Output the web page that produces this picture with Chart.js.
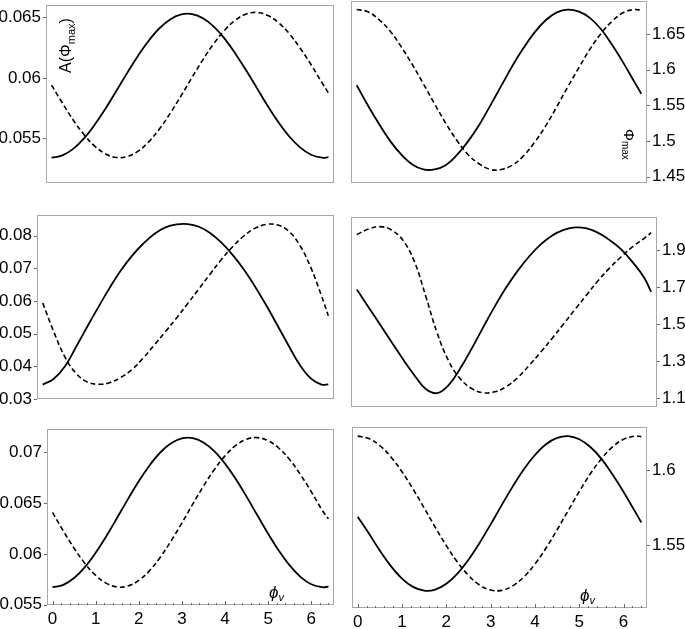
<!DOCTYPE html>
<html>
<head>
<meta charset="utf-8">
<script src="https://cdn.jsdelivr.net/npm/chart.js@4.4.1/dist/chart.umd.min.js"></script>
<style>
  html, body { margin: 0; padding: 0; background: #fff; }
  body { width: 685px; height: 629px; position: relative; overflow: hidden; }
  canvas { position: absolute; }
</style>
</head>
<body>
<canvas id="p1"></canvas>
<canvas id="p2"></canvas>
<canvas id="p3"></canvas>
<canvas id="p4"></canvas>
<canvas id="p5"></canvas>
<canvas id="p6"></canvas>
<script>
// phase phi_v samples, shared by every panel
const phi = [0, 0.25, 0.5, 0.75, 1, 1.25, 1.5, 1.75, 2, 2.25, 2.5, 2.75, 3, 3.25,
             3.5, 3.75, 4, 4.25, 4.5, 4.75, 5, 5.25, 5.5, 5.75, 6, 6.25, 6.4];
const xTicks = [0, 1, 2, 3, 4, 5, 6];

// top row: A(Phi_max) left, Phi_max right
const topLeftSolid  = [0.05340, 0.05359, 0.05413, 0.05500, 0.05614, 0.05747, 0.05893, 0.06041, 0.06183, 0.06309, 0.06412, 0.06485, 0.06524, 0.06527,
                       0.06492, 0.06423, 0.06324, 0.06200, 0.06060, 0.05913, 0.05766, 0.05630, 0.05513, 0.05423, 0.05364, 0.05340, 0.05344];
const topLeftDashed = [0.05940, 0.05792, 0.05652, 0.05531, 0.05435, 0.05371, 0.05342, 0.05350, 0.05394, 0.05473, 0.05581, 0.05711, 0.05855, 0.06005,
                       0.06151, 0.06283, 0.06394, 0.06477, 0.06527, 0.06540, 0.06515, 0.06455, 0.06363, 0.06243, 0.06108, 0.05960, 0.05875];
const topLeftTicks  = [0.055, 0.06, 0.065];

const topRightSolid  = [1.578, 1.550, 1.524, 1.500, 1.481, 1.467, 1.460, 1.460, 1.466, 1.480, 1.499, 1.522, 1.549, 1.577,
                        1.605, 1.630, 1.652, 1.669, 1.680, 1.684, 1.681, 1.672, 1.656, 1.634, 1.609, 1.582, 1.566];
const topRightDashed = [1.684, 1.681, 1.670, 1.654, 1.632, 1.607, 1.580, 1.552, 1.525, 1.501, 1.481, 1.468, 1.460, 1.460,
                        1.466, 1.479, 1.498, 1.521, 1.548, 1.576, 1.603, 1.629, 1.651, 1.668, 1.680, 1.684, 1.683];
const topRightTicks  = [1.45, 1.5, 1.55, 1.6, 1.65];

// middle row
const midLeftSolid  = [0.0344, 0.0362, 0.0400, 0.0460, 0.0522, 0.0582, 0.0640, 0.0693, 0.0738, 0.0775, 0.0805, 0.0825, 0.0834, 0.0835,
                       0.0827, 0.0808, 0.0779, 0.0742, 0.0698, 0.0646, 0.0589, 0.0528, 0.0466, 0.0407, 0.0364, 0.0344, 0.0345];
const midLeftDashed = [0.0594, 0.0505, 0.0428, 0.0378, 0.0352, 0.0345, 0.0350, 0.0366, 0.0390, 0.0425, 0.0465, 0.0506, 0.0548, 0.0592,
                       0.0637, 0.0682, 0.0726, 0.0765, 0.0798, 0.0822, 0.0834, 0.0833, 0.0815, 0.0773, 0.0705, 0.0615, 0.0555];
const midLeftTicks  = [0.03, 0.04, 0.05, 0.06, 0.07, 0.08];

const midRightSolid  = [1.688, 1.594, 1.500, 1.406, 1.312, 1.225, 1.150, 1.128, 1.172, 1.262, 1.370, 1.485, 1.597, 1.700,
                        1.790, 1.868, 1.932, 1.980, 2.010, 2.024, 2.018, 1.994, 1.955, 1.905, 1.835, 1.752, 1.675];
const midRightDashed = [1.985, 2.015, 2.028, 2.010, 1.955, 1.840, 1.650, 1.450, 1.300, 1.205, 1.152, 1.130, 1.135, 1.163,
                        1.212, 1.278, 1.350, 1.425, 1.503, 1.582, 1.660, 1.737, 1.805, 1.865, 1.920, 1.965, 1.995];
const midRightTicks  = [1.1, 1.3, 1.5, 1.7, 1.9];

// bottom row
const botLeftSolid  = [0.05672, 0.05695, 0.05762, 0.05869, 0.06010, 0.06175, 0.06355, 0.06538, 0.06713, 0.06869, 0.06996, 0.07086, 0.07135, 0.07138,
                       0.07095, 0.07010, 0.06887, 0.06735, 0.06562, 0.06379, 0.06198, 0.06030, 0.05886, 0.05774, 0.05701, 0.05672, 0.05677];
const botLeftDashed = [0.06407, 0.06225, 0.06055, 0.05906, 0.05789, 0.05710, 0.05674, 0.05684, 0.05739, 0.05835, 0.05967, 0.06127, 0.06303, 0.06487,
                       0.06665, 0.06827, 0.06963, 0.07065, 0.07126, 0.07142, 0.07112, 0.07038, 0.06926, 0.06778, 0.06612, 0.06431, 0.06345];
const botLeftTicks  = [0.055, 0.06, 0.065, 0.07];

const botRightSolid  = [1.5690, 1.5580, 1.5464, 1.5360, 1.5277, 1.5221, 1.5196, 1.5203, 1.5242, 1.5310, 1.5403, 1.5515, 1.5639, 1.5768,
                        1.5893, 1.6008, 1.6103, 1.6175, 1.6217, 1.6229, 1.6208, 1.6156, 1.6077, 1.5973, 1.5856, 1.5729, 1.5652];
const botRightDashed = [1.6229, 1.6213, 1.6166, 1.6090, 1.5991, 1.5875, 1.5749, 1.5620, 1.5497, 1.5387, 1.5298, 1.5234, 1.5200, 1.5198,
                        1.5228, 1.5288, 1.5374, 1.5481, 1.5603, 1.5731, 1.5859, 1.5977, 1.6078, 1.6157, 1.6208, 1.6229, 1.6226];
const botRightTicks  = [1.55, 1.6];

const X_MIN = -0.128, X_MAX = 6.528;
const PADV = 12, PADH = 2;
const FONT = '"Liberation Sans", Arial, Helvetica, sans-serif';

Chart.defaults.font.family = FONT;
Chart.defaults.font.size = 17;
Chart.defaults.color = '#000';

// frame, tick marks and the axis captions
const framePlugin = {
  id: 'frame',
  afterDraw(chart, args, o) {
    const { ctx, chartArea: a } = chart;
    const ys = chart.scales.y;
    ctx.save();
    ctx.strokeStyle = '#a8a8a8';
    ctx.lineWidth = 1;
    ctx.strokeRect(a.left + 0.5, a.top + 0.5, a.right - a.left - 1, a.bottom - a.top - 1);

    ctx.strokeStyle = '#666';
    ctx.beginPath();
    o.yTicks.forEach(v => {
      const py = Math.round(ys.getPixelForValue(v)) + 0.5;
      if (o.side === 'left') { ctx.moveTo(a.left - 3, py); ctx.lineTo(a.left, py); }
      else { ctx.moveTo(a.right, py); ctx.lineTo(a.right + 3, py); }
    });
    if (o.xAxis) {
      const xs = chart.scales.x;
      for (let i = 0; i <= 32; i++) {
        const px = Math.round(xs.getPixelForValue(i * 0.2)) + 0.5;
        const len = i % 5 === 0 ? 4 : 2;
        ctx.moveTo(px, a.bottom);
        ctx.lineTo(px, a.bottom - len);
      }
    }
    ctx.stroke();

    ctx.fillStyle = '#000';
    ctx.textBaseline = 'alphabetic';
    ctx.textAlign = 'left';
    if (o.caption === 'amp') {
      ctx.translate(a.left + 25, a.top + 68);
      ctx.rotate(-Math.PI / 2);
      ctx.font = '16px ' + FONT;
      ctx.fillText('A(\u03A6', 0, 0);
      let w = ctx.measureText('A(\u03A6').width;
      ctx.font = '11px ' + FONT;
      ctx.fillText('max', w, 4);
      w += ctx.measureText('max').width;
      ctx.font = '16px ' + FONT;
      ctx.fillText(')', w, 0);
    } else if (o.caption === 'phimax') {
      ctx.translate(a.right - 23, a.top + 128);
      ctx.rotate(Math.PI / 2);
      ctx.font = '15px ' + FONT;
      ctx.fillText('\u03A6', 0, 0);
      const w = ctx.measureText('\u03A6').width;
      ctx.font = '10px ' + FONT;
      ctx.fillText('max', w, 2);
    } else if (o.caption === 'phiv') {
      const x0 = a.right - o.capDx, y0 = a.bottom - 7;
      ctx.font = 'italic 17px ' + FONT;
      ctx.fillText('\u03D5', x0, y0);
      const w = ctx.measureText('\u03D5').width;
      ctx.font = 'italic 11px ' + FONT;
      ctx.fillText('v', x0 + w, y0 + 3);
    }
    ctx.restore();
  }
};

function makePanel(id, p) {
  const canvas = document.getElementById(id);
  const yw = p.side === 'left' ? 50 : 40;
  const xh = p.xAxis ? 24 : 0;
  const fw = p.frame.r - p.frame.l, fh = p.frame.b - p.frame.t;
  const left = p.side === 'left' ? p.frame.l - yw - PADH : p.frame.l - PADH;
  const w = Math.round(fw + yw + 2 * PADH);
  const h = Math.round(fh + xh + 2 * PADV);
  canvas.width = w; canvas.height = h;
  canvas.style.width = w + 'px'; canvas.style.height = h + 'px';
  canvas.style.left = left + 'px';
  canvas.style.top = (p.frame.t - PADV) + 'px';

  return new Chart(canvas.getContext('2d'), {
    type: 'line',
    data: {
      datasets: [
        { data: phi.map((x, i) => ({ x, y: p.solid[i] })),
          borderColor: '#000', borderWidth: 1.8, fill: false },
        { data: phi.map((x, i) => ({ x, y: p.dashed[i] })),
          borderColor: '#000', borderWidth: 1.6, borderDash: [5, 3], fill: false }
      ]
    },
    options: {
      responsive: false,
      animation: false,
      layout: { padding: { left: PADH, right: PADH, top: PADV, bottom: PADV } },
      elements: { point: { radius: 0 }, line: { tension: 0.4 } },
      plugins: {
        legend: { display: false },
        tooltip: { enabled: false },
        frame: { side: p.side, yTicks: p.yTicks, xAxis: p.xAxis, caption: p.caption, capDx: p.capDx }
      },
      scales: {
        x: {
          type: 'linear', min: X_MIN, max: X_MAX, display: p.xAxis,
          grid: { display: false, drawTicks: false }, border: { display: false },
          ticks: { padding: 4, maxRotation: 0, autoSkip: false },
          afterBuildTicks: s => { s.ticks = xTicks.map(v => ({ value: v })); },
          afterFit: s => { s.height = xh; s.paddingLeft = 0; s.paddingRight = 0; }
        },
        y: {
          type: 'linear', position: p.side, min: p.yMin, max: p.yMax,
          grid: { display: false, drawTicks: false }, border: { display: false },
          ticks: { padding: 5, callback: v => String(parseFloat(v.toFixed(4))) },
          afterBuildTicks: s => { s.ticks = p.yTicks.map(v => ({ value: v })); },
          afterFit: s => { s.width = yw; s.paddingTop = 0; s.paddingBottom = 0; }
        }
      }
    },
    plugins: [framePlugin]
  });
}

makePanel('p1', { frame: { l: 46, r: 334, t: 5, b: 183 }, side: 'left', xAxis: false,
  yMin: 0.05131, yMax: 0.06602, yTicks: topLeftTicks,
  solid: topLeftSolid, dashed: topLeftDashed, caption: 'amp' });
makePanel('p2', { frame: { l: 351, r: 647, t: 1, b: 183 }, side: 'right', xAxis: false,
  yMin: 1.441, yMax: 1.696, yTicks: topRightTicks,
  solid: topRightSolid, dashed: topRightDashed, caption: 'phimax' });
makePanel('p3', { frame: { l: 37, r: 334, t: 215, b: 399 }, side: 'left', xAxis: false,
  yMin: 0.0300, yMax: 0.0863, yTicks: midLeftTicks,
  solid: midLeftSolid, dashed: midLeftDashed });
makePanel('p4', { frame: { l: 351, r: 657, t: 217, b: 407 }, side: 'right', xAxis: false,
  yMin: 1.053, yMax: 2.080, yTicks: midRightTicks,
  solid: midRightSolid, dashed: midRightDashed });
makePanel('p5', { frame: { l: 47, r: 334, t: 429, b: 605 }, side: 'left', xAxis: true,
  yMin: 0.05497, yMax: 0.07227, yTicks: botLeftTicks,
  solid: botLeftSolid, dashed: botLeftDashed, caption: 'phiv', capDx: 65 });
makePanel('p6', { frame: { l: 352, r: 647, t: 427, b: 608 }, side: 'right', xAxis: true,
  yMin: 1.508, yMax: 1.629, yTicks: botRightTicks,
  solid: botRightSolid, dashed: botRightDashed, caption: 'phiv', capDx: 67 });
</script>
</body>
</html>
